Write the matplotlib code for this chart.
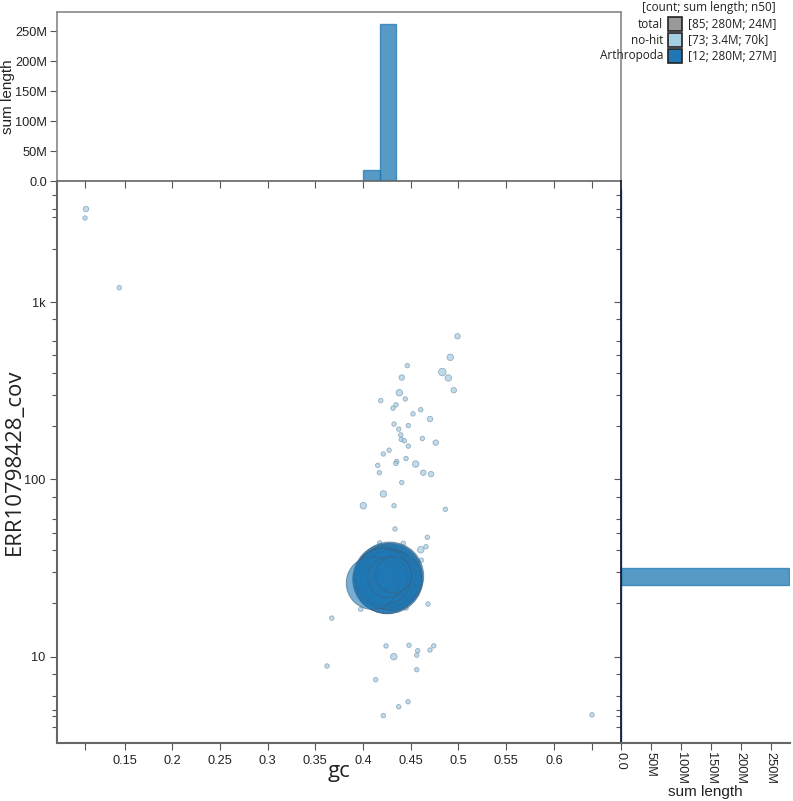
import numpy as np
import matplotlib
matplotlib.use('Agg')
import matplotlib.pyplot as plt
from matplotlib.ticker import FixedLocator, NullFormatter
from matplotlib.patches import Rectangle

# no-hit contigs: gc, coverage, length (bp)
nohit_gc = [0.499, 0.4915, 0.4464, 0.4831, 0.4894, 0.4406, 0.4381, 0.4951, 0.4443, 0.4186,
            0.4346, 0.4314, 0.4605, 0.4524, 0.4702, 0.4325, 0.4374, 0.4475, 0.4395, 0.4401,
            0.4433, 0.4622, 0.4762, 0.4475, 0.4273, 0.4213, 0.4451, 0.4353, 0.4343, 0.4154,
            0.4552, 0.4632, 0.4713, 0.4171, 0.4406, 0.4213, 0.4003, 0.4325, 0.4863, 0.4335,
            0.4674, 0.4175, 0.4422, 0.4660, 0.4605, 0.4611, 0.4681, 0.3976, 0.3672, 0.4241,
            0.4482, 0.4573, 0.4741, 0.4702, 0.4322, 0.4563, 0.3623, 0.4563, 0.4133, 0.4472,
            0.4374, 0.4213, 0.1096, 0.1086, 0.1445, 0.640, 0.4451,
            0.415, 0.430, 0.420, 0.433, 0.410, 0.428]
nohit_cov = [641, 488, 438, 403, 373, 375, 308, 318, 284, 278,
             263, 252, 247, 234, 219, 205, 192, 201, 178, 168,
             165, 170, 161, 154, 146, 139, 131, 126, 123, 120,
             122, 109, 107, 109, 96, 82.8, 71, 71, 67.8, 52.5,
             47.1, 43.8, 43.6, 41.7, 40.1, 35.0, 19.8, 18.5, 16.5, 11.5,
             11.6, 10.8, 11.5, 10.9, 10.0, 10.2, 8.86, 8.45, 7.42, 5.57,
             5.22, 4.65, 3346, 2977, 1204, 4.7, 18.8,
             22, 24, 30, 31, 29, 26]
nohit_len = [25e3, 60e3, 5e3, 110e3, 60e3, 25e3, 60e3, 25e3, 5e3, 5e3,
             5e3, 5e3, 5e3, 5e3, 25e3, 5e3, 5e3, 5e3, 5e3, 5e3,
             5e3, 5e3, 25e3, 5e3, 5e3, 5e3, 5e3, 5e3, 5e3, 5e3,
             60e3, 25e3, 25e3, 5e3, 5e3, 60e3, 60e3, 5e3, 5e3, 5e3,
             5e3, 5e3, 5e3, 5e3, 60e3, 5e3, 5e3, 5e3, 5e3, 5e3,
             5e3, 5e3, 5e3, 5e3, 60e3, 5e3, 5e3, 5e3, 5e3, 5e3,
             5e3, 5e3, 25e3, 5e3, 5e3, 5e3, 5e3,
             300e3, 400e3, 350e3, 250e3, 300e3, 450e3]

# Arthropoda contigs
arth_gc = [0.426, 0.428, 0.424, 0.427, 0.425, 0.429, 0.423, 0.430, 0.421, 0.410, 0.426, 0.432]
arth_cov = [27.5, 28.5, 27.0, 28.0, 26.5, 29.0, 27.8, 27.0, 28.2, 26.0, 28.0, 29.0]
arth_len = [33e6, 31e6, 29e6, 28e6, 27e6, 26e6, 25e6, 24e6, 21e6, 18e6, 10e6, 8e6]

legend_names = ['total', 'no-hit', 'Arthropoda']
legend_stats = ['[85; 280M; 24M]', '[73; 3.4M; 70k]', '[12; 280M; 27M]']
legend_colors = ['#999999', '#a6cee3', '#1f78b4']

gc_ticks = [0.15, 0.2, 0.25, 0.3, 0.35, 0.4, 0.45, 0.5, 0.55, 0.6]
gc_labels = ['0.15', '0.2', '0.25', '0.3', '0.35', '0.4', '0.45', '0.5', '0.55', '0.6']
cov_ticks = [10, 100, 1000]
cov_labels = ['10', '100', '1k']
len_ticks = [0, 50e6, 100e6, 150e6, 200e6, 250e6]
len_labels = ['0.0', '50M', '100M', '150M', '200M', '250M']

TICKFONT = 'Liberation Sans'
LABELFONT = 'Open Sans'

W, H = 793, 801
fig = plt.figure(figsize=(W / 100, H / 100), dpi=100)


def fx(px):
    return px / W


def fy(py):
    return 1 - py / H


L, R, T, B = 57, 621, 181, 743
ax = fig.add_axes([fx(L), fy(B), fx(R) - fx(L), fy(T) - fy(B)])
axt = fig.add_axes([fx(L), fy(T), fx(R) - fx(L), fy(12) - fy(T)])
axr = fig.add_axes([fx(R), fy(B), fx(790) - fx(R), fy(T) - fy(B)])

xlim = (0.07925, 0.6704)
ylim = (3.26, 4813)


def radius(length):
    lmin, lmax = 1e3, 33e6
    return 2 + 33 * (np.sqrt(length) - np.sqrt(lmin)) / (np.sqrt(lmax) - np.sqrt(lmin))


def msize(length):
    return (2 * radius(np.asarray(length)) * 0.72) ** 2


ax.scatter(nohit_gc, nohit_cov, s=msize(nohit_len), facecolor='#a6cee3', alpha=0.7,
           edgecolor='#7593ab', linewidth=0.6, zorder=2)
ax.scatter(arth_gc, arth_cov, s=msize(arth_len), facecolor='#1f78b4', alpha=0.6,
           edgecolor='#3a5f80', linewidth=0.7, zorder=3)

ax.set_yscale('log')
ax.set_xlim(*xlim)
ax.set_ylim(*ylim)

# ticks: labelled values plus unlabelled data extremes
ax.xaxis.set_major_locator(FixedLocator(gc_ticks))
ax.set_xticklabels(gc_labels)
ax.xaxis.set_minor_locator(FixedLocator([min(nohit_gc), max(nohit_gc)]))
ax.yaxis.set_major_locator(FixedLocator(cov_ticks))
ax.set_yticklabels(cov_labels)
minors = [m * d for d in [1, 10, 100, 1000] for m in [2, 3, 4, 5, 6, 8]]
minors = [v for v in minors if ylim[0] < v < ylim[1]] + [min(nohit_cov), max(nohit_cov)]
ax.yaxis.set_minor_locator(FixedLocator(minors))
ax.yaxis.set_minor_formatter(NullFormatter())
ax.xaxis.set_minor_formatter(NullFormatter())

for a in (ax, axt, axr):
    a.tick_params(which='both', direction='out', colors='#555555', labelcolor='#222222',
                  labelsize=9.2, width=0.8)
    a.tick_params(which='major', length=5)
    a.tick_params(which='minor', length=3.5)
    for lab in a.get_xticklabels() + a.get_yticklabels():
        lab.set_fontfamily(TICKFONT)

ax.tick_params(which='minor', axis='x', length=5)
ax.spines['top'].set_visible(False)
ax.spines['right'].set_visible(False)
for s in ('left', 'bottom'):
    ax.spines[s].set_color('#666666')
    ax.spines[s].set_linewidth(1.5)

ax.set_xlabel('gc', fontsize=16, fontfamily=LABELFONT, color='#222222')
ax.xaxis.set_label_coords(0.5, -0.05)
ax.xaxis.label.set_va('center')
ax.set_ylabel('ERR10798428_cov', fontsize=16, fontfamily=LABELFONT, color='#222222')
ax.yaxis.set_label_coords(-0.075, 0.5)
ax.yaxis.label.set_va('center')

# top histogram: sum length per gc bin
gc_edges = 0.4 + 0.0175 * np.arange(-19, 16)
axt.hist(nohit_gc, bins=gc_edges, weights=nohit_len, color='#a6cee3', alpha=0.75,
         edgecolor='#a6cee3', linewidth=1)
axt.hist(arth_gc, bins=gc_edges, weights=arth_len, color='#1f78b4', alpha=0.75,
         edgecolor='#1f78b4', linewidth=1)
axt.set_xlim(*xlim)
axt.set_ylim(0, 282e6)
axt.xaxis.set_major_locator(FixedLocator(gc_ticks))
axt.xaxis.set_minor_locator(FixedLocator([min(nohit_gc), max(nohit_gc)]))
axt.xaxis.set_major_formatter(NullFormatter())
axt.xaxis.set_minor_formatter(NullFormatter())
axt.tick_params(which='minor', axis='x', length=5)
axt.tick_params(axis='y', pad=2)
axt.yaxis.set_major_locator(FixedLocator(len_ticks))
axt.set_yticklabels(len_labels, fontfamily=TICKFONT)
for s in ('top', 'right', 'left'):
    axt.spines[s].set_color('#888888')
    axt.spines[s].set_linewidth(1.2)
axt.spines['bottom'].set_color('#666666')
axt.spines['bottom'].set_linewidth(1.2)
axt.set_ylabel('sum length', fontsize=11, fontfamily=TICKFONT, color='#222222')
axt.yaxis.set_label_coords(-0.086, 0.5)
axt.yaxis.label.set_va('center')

# right histogram: sum length per coverage bin
cov_edges = 10 ** (1.405 + 0.093 * np.arange(-10, 25))
axr.hist(nohit_cov, bins=cov_edges, weights=nohit_len, orientation='horizontal',
         color='#a6cee3', alpha=0.75, edgecolor='#a6cee3', linewidth=1)
axr.hist(arth_cov, bins=cov_edges, weights=arth_len, orientation='horizontal',
         color='#1f78b4', alpha=0.75, edgecolor='#1f78b4', linewidth=1)
axr.set_yscale('log')
axr.set_ylim(*ylim)
axr.set_xlim(0, 282e6)
axr.yaxis.set_major_locator(FixedLocator(cov_ticks))
axr.yaxis.set_minor_locator(FixedLocator(minors))
axr.yaxis.set_major_formatter(NullFormatter())
axr.yaxis.set_minor_formatter(NullFormatter())
axr.xaxis.set_major_locator(FixedLocator(len_ticks))
axr.set_xticklabels(len_labels, rotation=-90, fontfamily=TICKFONT, va='top', ha='center')
axr.tick_params(axis='x', pad=1.5)
axr.spines['top'].set_visible(False)
axr.spines['right'].set_visible(False)
axr.spines['left'].set_color('#1a1a33')
axr.spines['left'].set_linewidth(1.3)
axr.spines['bottom'].set_color('#666666')
axr.spines['bottom'].set_linewidth(1.5)
axr.set_xlabel('sum length', fontsize=11, fontfamily=TICKFONT, color='#222222')
axr.xaxis.set_label_coords(0.5, -0.087)
axr.xaxis.label.set_va('center')

# legend
fig.text(fx(776), fy(8), '[count; sum length; n50]', ha='right', va='center',
         fontsize=8.5, fontfamily=LABELFONT, color='#222222')
for i, (name, stat, col) in enumerate(zip(legend_names, legend_stats, legend_colors)):
    yc = 24 + i * 16
    fig.text(fx(663), fy(yc), name, ha='right', va='center', fontsize=8.5,
             fontfamily=LABELFONT, color='#222222')
    fig.patches.append(Rectangle((fx(668), fy(yc + 7)), fx(14), 14 / H,
                                 transform=fig.transFigure, facecolor=col,
                                 edgecolor='#222222', linewidth=1.2))
    fig.text(fx(688), fy(yc), stat, ha='left', va='center', fontsize=8.5,
             fontfamily=LABELFONT, color='#222222')

fig.savefig('out.png', dpi=100)
